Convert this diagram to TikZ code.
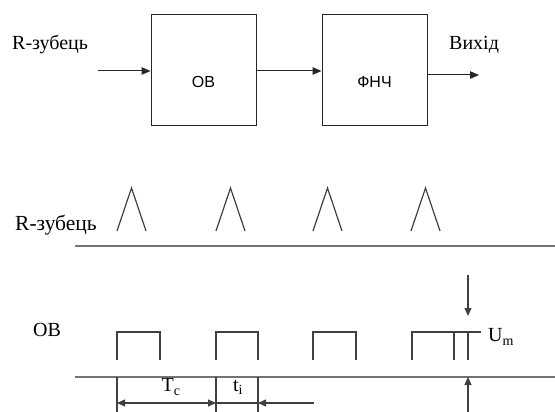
\documentclass[tikz,border=0pt]{standalone}
\usepackage{fontspec}
\setmainfont{Liberation Serif}
\newfontfamily\sansf{Liberation Sans}
\usetikzlibrary{arrows.meta}
\begin{document}
\begin{tikzpicture}[x=1pt,y=-1pt,
  block/.style={draw=black!85,line width=1pt,minimum width=105pt,minimum height=111pt,inner sep=0pt},
  blocktext/.style={font=\sansf\fontsize{16}{18}\selectfont,inner sep=0pt},
  flow/.style={draw=black!85,line width=1pt,-{Triangle[length=9pt,width=7.5pt]}},
  lbl/.style={font=\fontsize{20}{22}\selectfont,inner sep=0pt},
  axis/.style={draw=black!55,line width=2pt},
  wave/.style={draw=black!75,line width=1.2pt},
  dim/.style={draw=black!75,line width=1.1pt},
  tip/.style={-{Triangle[length=8pt,width=7pt]}}]
\useasboundingbox (0,0) rectangle (555,412);

% block diagram
\node[block] (ob) at (203.5,70.5) {};
\node[block] (lpf) at (374.5,70.5) {};
\node[blocktext] (obt) at (203.5,82) {ОВ};
\node[blocktext] (lpft) at (374.5,82) {ФНЧ};
\coordinate (in) at (98,71);
\coordinate (out) at (479,75);
\node[lbl,anchor=west] (inlbl) at (12,45) {R-зубець};
\node[lbl,anchor=west] (outlbl) at (449,45) {Вихід};
\draw[flow] (in) -- (ob.west |- in);
\draw[flow] (ob.east |- in) -- (lpf.west |- in);
\draw[flow] (lpf.east |- out) -- (out);

% R-wave train
\node[lbl,anchor=west,font=\fontsize{21.5}{23}\selectfont] (rlbl) at (15,225) {R-зубець};
\foreach \x in {117,216,313,411}
  \draw[wave] (\x,231) -- (\x+14.5,188) -- (\x+29,231);
\draw[axis] (75,246) -- (555,246);

% detector output pulses
\node[lbl,anchor=west] (oblbl) at (33,330) {OB};
\foreach \x/\w in {117/43,216/42,313/43}
  \draw[wave] (\x,360) -- (\x,332) -- (\x+\w,332) -- (\x+\w,360);
\draw[wave] (412,360) -- (412,332) -- (481,332);
\draw[wave] (454,332) -- (454,360);
\draw[wave] (468,332) -- (468,360);
\draw[wave,line width=1.7pt] (440,332) -- (453,332);
\draw[axis] (75,377) -- (555,377);

% amplitude marker
\coordinate (umtop) at (468,275);
\coordinate (umhi) at (468,316);
\coordinate (umbot) at (468,412);
\coordinate (umlo) at (468,377);
\draw[dim,tip] (umtop) -- (umhi);
\draw[dim,tip] (umbot) -- (umlo);
\node[lbl,anchor=west] (um) at (488,337) {U\textsubscript{m}};

% period and pulse width
\coordinate (a1) at (117,377); \coordinate (a2) at (117,412);
\coordinate (b1) at (216,377); \coordinate (b2) at (216,412);
\coordinate (c1) at (258,377); \coordinate (c2) at (258,412);
\draw[dim] (a1) -- (a2);
\draw[dim] (b1) -- (b2);
\draw[dim] (c1) -- (c2);
\coordinate (pa) at (117,403);
\coordinate (pb) at (216,403);
\coordinate (pc) at (258,403);
\coordinate (pd) at (314,403);
\draw[dim,{Triangle[length=8pt,width=7pt]}-{Triangle[length=8pt,width=7pt]}] (pa) -- (pb);
\draw[dim,tip] (pd) -- (pc);
\draw[dim] (pb) -- (pc);
\node[lbl] (tc) at (171,387) {T\textsubscript{c}};
\node[lbl] (ti) at (238,387) {t\textsubscript{i}};
\end{tikzpicture}
\end{document}
